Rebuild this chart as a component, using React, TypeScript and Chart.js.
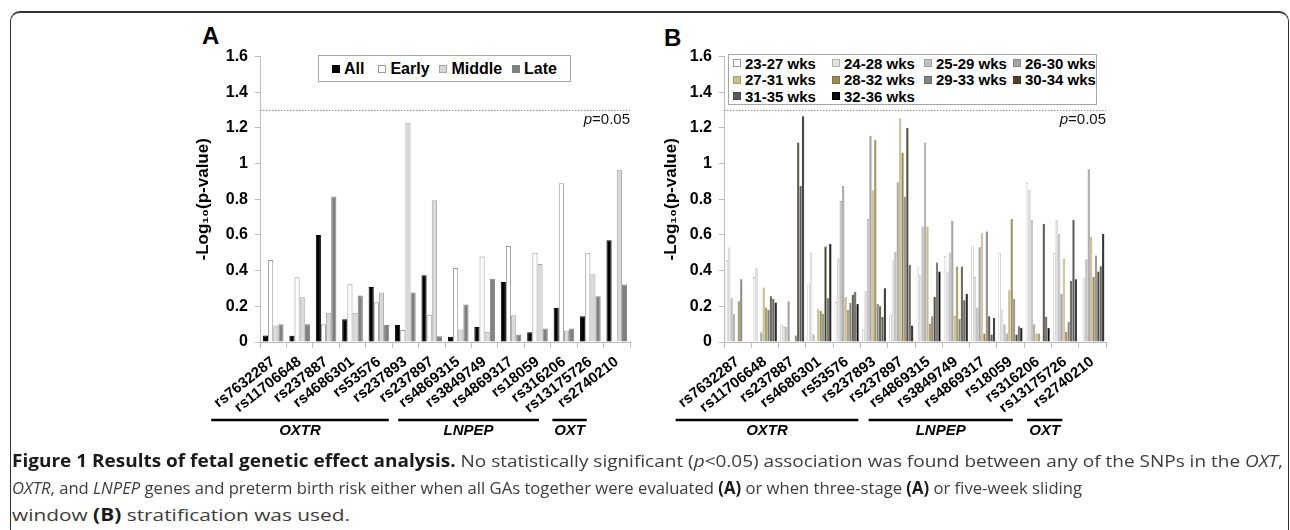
import React, { useEffect, useLayoutEffect, useRef } from "react";
import { Chart, registerables } from "chart.js";
Chart.register(...registerables);

const FONT = "'Liberation Sans', Arial, Helvetica, sans-serif";

// ---------- data ----------
const snps = ["rs7632287", "rs11706648", "rs237887", "rs4686301", "rs53576", "rs237893", "rs237897",
  "rs4869315", "rs3849749", "rs4869317", "rs18059", "rs316206", "rs13175726", "rs2740210"];

const geneNames = ["OXTR", "LNPEP", "OXT"];
const geneFirst = [0, 7, 12];
const geneLast = [6, 11, 13];

const yTicksMax = 1.6;
const yTickStep = 0.2;
const pThreshold = 1.301; // -log10(0.05)

// Panel A
const stageNames = ["All", "Early", "Middle", "Late"];
const allValues = [0.037, 0.035, 0.60, 0.127, 0.309, 0.095, 0.374, 0.03, 0.084, 0.337, 0.054, 0.19, 0.145, 0.57];
const earlyValues = [0.46, 0.363, 0.10, 0.324, 0.223, 0.067, 0.153, 0.415, 0.48, 0.538, 0.50, 0.89, 0.50, 0];
const middleValues = [0.093, 0.251, 0.164, 0.164, 0.277, 1.23, 0.794, 0.07, 0.058, 0.15, 0.437, 0.065, 0.38, 0.965];
const lateValues = [0.10, 0.099, 0.815, 0.26, 0.095, 0.277, 0.032, 0.21, 0.355, 0.041, 0.076, 0.076, 0.257, 0.323];

// Panel B
const windowNames = ["23-27 wks", "24-28 wks", "25-29 wks", "26-30 wks", "27-31 wks",
  "28-32 wks", "29-33 wks", "30-34 wks", "31-35 wks", "32-36 wks"];
const w23_27 = [0.46, 0.364, 0.10, 0.327, 0.224, 0.068, 0.154, 0.418, 0.483, 0.54, 0.50, 0.892, 0.50, 0];
const w24_28 = [0.53, 0.416, 0.088, 0.50, 0.47, 0.285, 0.457, 0.377, 0.395, 0.364, 0.18, 0.852, 0.684, 0.358];
const w25_29 = [0.247, 0, 0.085, 0.044, 0.79, 0.689, 0.507, 0.647, 0.502, 0.194, 0.10, 0.684, 0.606, 0.464];
const w26_30 = [0.159, 0.055, 0.228, 0, 0.874, 1.155, 0.895, 1.118, 0.678, 0.531, 0.048, 0.10, 0.27, 0.969];
const w27_31 = [0, 0.306, 0, 0.187, 0.252, 0.851, 1.255, 0.647, 0.148, 0.61, 0.29, 0.048, 0.466, 0.59];
const w28_32 = [0.228, 0.194, 0, 0.174, 0.181, 1.133, 1.062, 0.101, 0.423, 0.048, 0.69, 0.048, 0.057, 0.364];
const w29_33 = [0.352, 0.181, 0.036, 0.159, 0.219, 0.213, 0.814, 0.144, 0.129, 0.619, 0.243, 0, 0.113, 0.485];
const w30_34 = [0, 0.256, 1.118, 0.535, 0.265, 0.2, 1.2, 0.252, 0.423, 0.144, 0.042, 0.662, 0.343, 0.395];
const w31_35 = [0, 0.243, 0.874, 0.245, 0.282, 0.14, 0.433, 0.445, 0.234, 0.042, 0.088, 0.141, 0.684, 0.424];
const w32_36 = [0, 0.222, 1.266, 0.55, 0.213, 0.302, 0.092, 0.395, 0.27, 0.135, 0.079, 0.079, 0.352, 0.606];

// ---------- styles ----------
const stageFill = ["#000000", "#ffffff", "#d9d9d9", "#808080"];
const stageBorder = ["#000000", "#9a9a9a", "#a6a6a6", "#808080"];
const windowFill = ["#ffffff", "#e4e4e4", "#c0c0c0", "#a5a5a5", "#c9bc8e", "#9d8c52", "#808080", "#4d4530", "#5a5a5a", "#0d0d0d"];
const windowBorder = ["#9a9a9a", "#b0b0b0", "#a0a0a0", "#8a8a8a", "#b0a070", "#857540", "#707070", "#3d3520", "#4a4a4a", "#000000"];

const pLinePlugin = {
  id: "pline",
  afterDatasetsDraw(chart: any) {
    const { ctx, chartArea } = chart;
    const y = chart.scales.y.getPixelForValue(pThreshold);
    ctx.save();
    ctx.strokeStyle = "#8a8a8a";
    ctx.lineWidth = 1;
    ctx.setLineDash([1.5, 1.5]);
    ctx.beginPath();
    ctx.moveTo(chartArea.left, y + 0.5);
    ctx.lineTo(chartArea.right, y + 0.5);
    ctx.stroke();
    ctx.setLineDash([]);
    ctx.fillStyle = "#111";
    ctx.textBaseline = "middle";
    ctx.textAlign = "left";
    ctx.font = `15px ${FONT}`;
    const rest = "=0.05";
    const wr = ctx.measureText(rest).width;
    ctx.font = `italic 15px ${FONT}`;
    const wp = ctx.measureText("p").width;
    const x0 = chartArea.right - wr - wp;
    ctx.fillText("p", x0, y + 10);
    ctx.font = `15px ${FONT}`;
    ctx.fillText(rest, x0 + wp, y + 10);
    ctx.restore();
  },
};

const geneOffsets = [[-62, -43], [-60, -25], [-38, -30]];

const genePlugin = {
  id: "genes",
  afterDraw(chart: any) {
    const { ctx, chartArea } = chart;
    const xs = chart.scales.x;
    const yLine = chartArea.bottom + 78;
    ctx.save();
    ctx.strokeStyle = "#000";
    ctx.lineWidth = 2.4;
    ctx.fillStyle = "#000";
    ctx.font = `italic bold 15px ${FONT}`;
    ctx.textAlign = "center";
    ctx.textBaseline = "middle";
    geneNames.forEach((g, i) => {
      const x1 = xs.getPixelForValue(geneFirst[i]) + geneOffsets[i][0];
      const x2 = xs.getPixelForValue(geneLast[i]) + geneOffsets[i][1];
      ctx.beginPath();
      ctx.moveTo(x1, yLine);
      ctx.lineTo(x2, yLine);
      ctx.stroke();
      ctx.fillText(g, (x1 + x2) / 2, yLine + 11);
    });
    ctx.restore();
  },
};

function BarPanel(props: {
  left: number; top: number; width: number; height: number;
  datasets: any[]; titlePad: number;
}) {
  const ref = useRef<HTMLCanvasElement>(null);
  useEffect(() => {
    const chart = new Chart(ref.current as HTMLCanvasElement, {
      type: "bar",
      data: { labels: snps, datasets: props.datasets },
      options: {
        responsive: false,
        animation: false,
        layout: { padding: { top: 16, right: 10, bottom: 40, left: 0 } },
        plugins: { legend: { display: false }, tooltip: { enabled: false } },
        scales: {
          x: {
            grid: { display: true, drawOnChartArea: false, drawTicks: true, tickLength: 6, offset: true, color: "#bdbdbd" },
            border: { display: true, color: "#bdbdbd" },
            ticks: {
              autoSkip: false, minRotation: 38, maxRotation: 38, padding: 5, color: "#000",
              font: { family: FONT, size: 15, weight: "bold" },
            },
            afterFit: (s: any) => { s.height = 70; },
          },
          y: {
            min: 0, max: yTicksMax,
            ticks: {
              stepSize: yTickStep, padding: 7, color: "#000",
              font: { family: FONT, size: 16, weight: "bold" },
              callback: (v: any) => String(Math.round(Number(v) * 10) / 10),
            },
            grid: { drawOnChartArea: false, drawTicks: true, tickLength: 5, color: "#bdbdbd" },
            border: { display: true, color: "#bdbdbd" },
            title: {
              display: true, text: "-Log\u2081\u2080(p-value)", color: "#000",
              font: { family: FONT, size: 17, weight: "bold" },
              padding: { top: props.titlePad, bottom: 0 },
            },
            afterFit: (s: any) => { s.width = 90; },
          },
        },
      } as any,
      plugins: [pLinePlugin, genePlugin],
    });
    return () => chart.destroy();
  }, []);
  return (
    <canvas ref={ref} width={props.width} height={props.height}
      style={{ position: "absolute", left: props.left, top: props.top, width: props.width, height: props.height }} />
  );
}

function Marker({ fill, border }: { fill: string; border: string }) {
  return <span style={{ display: "inline-block", flexShrink: 0, width: 8, height: 8, background: fill, border: `1px solid ${border}`, boxSizing: "border-box", marginRight: 4 }} />;
}

function FitLine({ top, width, children }: { top: number; width: number; children: any }) {
  const ref = useRef<HTMLSpanElement>(null);
  useLayoutEffect(() => {
    const el = ref.current;
    if (!el) return;
    el.style.transform = "none";
    const w = el.getBoundingClientRect().width;
    if (w > 0) el.style.transform = `scaleX(${width / w})`;
  }, []);
  return (
    <div style={{ position: "absolute", left: 12, top, whiteSpace: "nowrap", height: 24, lineHeight: "24px" }}>
      <span ref={ref} style={{ display: "inline-block", transformOrigin: "left center", fontFamily: "'Open Sans', sans-serif", fontSize: 17, color: "#3c3c3c" }}>
        {children}
      </span>
    </div>
  );
}

export default function App() {
  const dsA = [allValues, earlyValues, middleValues, lateValues].map((d, i) => ({
    label: stageNames[i], data: d, backgroundColor: stageFill[i], borderColor: stageBorder[i],
    borderWidth: 1, barPercentage: 1, categoryPercentage: 0.78,
  }));
  const wSeries = [w23_27, w24_28, w25_29, w26_30, w27_31, w28_32, w29_33, w30_34, w31_35, w32_36];
  const dsB = wSeries.map((d, i) => ({
    label: windowNames[i], data: d, backgroundColor: windowFill[i], borderColor: windowBorder[i],
    borderWidth: 0.6, barPercentage: 1, categoryPercentage: 0.88,
  }));
  const legendFont: any = { fontFamily: FONT, fontWeight: "bold", fontSize: 16, color: "#000" };
  const colA = [48, 63, 75, 60];
  const colB = [99, 92, 89, 83];
  const bold: any = { fontWeight: 700, color: "#1a1a1a" };
  return (
    <div style={{ position: "fixed", left: 0, top: 0, width: 1290, height: 530, background: "#fff", overflow: "hidden" }}>
      <div style={{ position: "absolute", left: 10, top: 11, width: 1277, height: 600, borderTop: "2px solid #333", borderLeft: "1.5px solid #333", borderRight: "1.5px solid #333", borderTopLeftRadius: 10, borderTopRightRadius: 10 }} />
      <div style={{ position: "absolute", left: 202, top: 22, fontFamily: FONT, fontWeight: "bold", fontSize: 24 }}>A</div>
      <div style={{ position: "absolute", left: 664, top: 24, fontFamily: FONT, fontWeight: "bold", fontSize: 24 }}>B</div>
      <BarPanel left={170} top={40} width={470} height={412} datasets={dsA} titlePad={23} />
      <BarPanel left={634} top={40} width={482} height={412} datasets={dsB} titlePad={27} />
      <div style={{ position: "absolute", left: 318, top: 55, width: 253, height: 27, border: "1px solid #a6a6a6", background: "#fff", boxSizing: "border-box", display: "flex", alignItems: "center", paddingLeft: 13, ...legendFont }}>
        {stageNames.map((n, i) => (
          <span key={n} style={{ display: "inline-flex", alignItems: "center", width: colA[i] }}>
            <Marker fill={stageFill[i]} border={stageBorder[i]} />{n}
          </span>
        ))}
      </div>
      <div style={{ position: "absolute", left: 728, top: 54, width: 369, height: 51, border: "1px solid #a6a6a6", background: "#fff", boxSizing: "border-box", paddingLeft: 4, paddingTop: 0, display: "grid", gridTemplateColumns: colB.map((c) => c + "px").join(" "), gridAutoRows: "16.6px", ...legendFont, fontSize: 15 }}>
        {windowNames.map((n, i) => (
          <span key={n} style={{ display: "inline-flex", alignItems: "center", whiteSpace: "nowrap" }}>
            <Marker fill={windowFill[i]} border={windowBorder[i]} />{n}
          </span>
        ))}
      </div>
      <FitLine top={449} width={1271}>
        <span style={bold}>Figure 1 Results of fetal genetic effect analysis.</span> No statistically significant (<i>p</i>&lt;0.05) association was found between any of the SNPs in the <i>OXT</i>,
      </FitLine>
      <FitLine top={476} width={1070}>
        <i>OXTR</i>, and <i>LNPEP</i> genes and preterm birth risk either when all GAs together were evaluated <span style={bold}>(A)</span> or when three-stage <span style={bold}>(A)</span> or five-week sliding
      </FitLine>
      <FitLine top={503} width={338}>
        window <span style={bold}>(B)</span> stratification was used.
      </FitLine>
    </div>
  );
}
